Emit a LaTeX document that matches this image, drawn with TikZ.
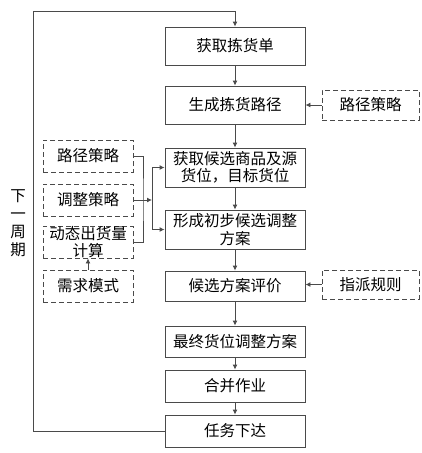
\documentclass[tikz,border=0pt]{standalone}
\usepackage{fontspec}
\newfontfamily\cjk{Noto Sans CJK SC}
\usetikzlibrary{arrows.meta}
\definecolor{ln}{HTML}{4A4A4A}
\tikzset{
  box/.style={draw=ln, line width=0.9pt, rectangle, align=center, inner sep=0pt,
    font=\cjk\fontsize{15.5}{17.5}\selectfont, text=black},
  mainbox/.style={box, minimum width=140pt},
  dbox/.style={box, dash pattern=on 5pt off 3pt},
  conn/.style={draw=ln, line width=0.9pt},
  arr/.style={conn, -{Latex[length=5pt,width=5pt]}}
}
\begin{document}
\begin{tikzpicture}[x=1pt,y=-1pt]
\useasboundingbox (0,0) rectangle (422,453);
% main column
\node[mainbox, minimum height=38pt] (b1) at (235,46) {获取拣货单};
\node[mainbox, minimum height=38pt] (b2) at (235,105) {生成拣货路径};
\node[mainbox, minimum height=39pt] (b3) at (235,167.5) {获取候选商品及源\\货位，目标货位};
\node[mainbox, minimum height=39pt] (b4) at (235,229.5) {形成初步候选调整\\方案};
\node[mainbox, minimum height=30pt] (b5) at (235,286) {候选方案评价};
\node[mainbox, minimum height=31pt] (b6) at (235,341.5) {最终货位调整方案};
\node[mainbox, minimum height=32pt] (b7) at (235,386) {合并作业};
\node[mainbox, minimum height=32pt] (b8) at (235,431) {任务下达};
% right dashed
\node[dbox, minimum width=97pt, minimum height=30pt] (r1) at (370.5,105) {路径策略};
\node[dbox, minimum width=97pt, minimum height=29pt] (r2) at (370.5,284.5) {指派规则};
% left dashed
\node[dbox, minimum width=90pt, minimum height=32pt] (l1) at (88,156) {路径策略};
\node[dbox, minimum width=90pt, minimum height=32pt] (l2) at (88,200) {调整策略};
\node[dbox, minimum width=90pt, minimum height=32pt] (l3) at (88,242) {动态出货量\\计算};
\node[dbox, minimum width=90pt, minimum height=32pt] (l4) at (88,286) {需求模式};
% label
\node[font=\cjk\fontsize{15.5}{18}\selectfont, align=center, inner sep=0pt] (lab) at (18,223) {下\\一\\周\\期};
% main arrows
\draw[arr] (b1) -- (b2);
\draw[arr] (b2) -- (b3);
\draw[arr] (b3) -- (b4);
\draw[arr] (b4) -- (b5);
\draw[arr] (b5) -- (b6);
\draw[arr] (b6) -- (b7);
\draw[arr] (b7) -- (b8);
\draw[arr] (r1) -- (b2);
\draw[arr] (r2.west) -- (b5.east |- r2.west);
% left connectors
\coordinate (j1) at (143,200);
\coordinate (j2) at (152,200);
\draw[conn] (l1.east) -| (j1) |- (l3.east);
\draw[arr] (l2.east) -- (j2);
\draw[arr] (j2) |- (b3.west);
\draw[arr] (j2) |- (b4.west);
\draw[arr] (l4) -- (l3);
% feedback loop
\coordinate (f1) at (33,431);
\coordinate (f2) at (33,11);
\coordinate (f3) at (235,11);
\draw[conn] (b8.west) -- (f1) -- (f2) -- (f3);
\draw[arr] (f3) -- (b1.north);
\end{tikzpicture}
\end{document}
